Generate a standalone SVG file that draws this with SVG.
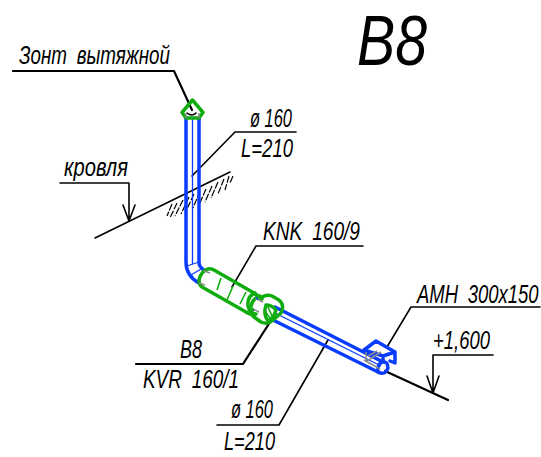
<svg xmlns="http://www.w3.org/2000/svg" width="541" height="457" viewBox="0 0 541 457">
<style>
text{font-family:"Liberation Sans",Arial,sans-serif;font-style:italic;fill:#000}
.w{word-spacing:6px}
.l{fill:none;stroke:#000;stroke-width:1.6;stroke-linecap:round;stroke-linejoin:round}
.t{fill:none;stroke:#000;stroke-width:2.2;stroke-linecap:round;stroke-linejoin:round}
.h{fill:none;stroke:#000;stroke-width:1.2;stroke-dasharray:7 1.500}
.b{fill:none;stroke:#0a3cff;stroke-width:3.500;stroke-linecap:round;stroke-linejoin:round}
.bt{fill:none;stroke:#0a3cff;stroke-width:1.300}
.g{fill:none;stroke:#10ac10;stroke-width:3.500;stroke-linecap:round;stroke-linejoin:round}
.gt{fill:none;stroke:#10ac10;stroke-width:1.600}
.gr{fill:none;stroke:#8a8a8a;stroke-width:1.500}
</style>
<g id="title"><text x="357" y="65" font-size="70" textLength="70" lengthAdjust="spacingAndGlyphs">B8</text></g>
<g id="connectors">
<path class="t" d="M13 71H174L192 110"/>
<path class="l" d="M296 132H235L192 176"/>
<path class="l" d="M363 246H256L232 287"/>
<path class="t" d="M136 364H243L272 319"/>
<path class="l" d="M217 425H279L328 340"/>
<path class="l" d="M540 307H411L387 347"/>
<path class="l" d="M60 183H129V220M123 205L129 221L135 205"/>
<path class="l" d="M493 355H433V393M427 376L433 393L439 376"/>
<path class="t" d="M385 371L448 400"/>
<path class="l" d="M95 238L230 172"/>
<path class="h" d="M172 204L167 216M177 203L170 218M183 200L175 216M189 197L181 214M194 194L186 211M200 191L193 208M206 189L199 205M212 186L205 202M218 182L211 198M224 179L218 194M229 176L225 190M233 176L230 183"/>
</g>
<g id="duct-vertical">
<path class="b" d="M186 118V262Q186 276 199 283"/>
<path class="b" d="M199 118V262Q199 267 204 270"/>
<path class="bt" d="M192.500 118V264"/>
<path class="bt" d="M187 266L199 262M191 275L201 269"/>
</g>
<g id="hood">
<path class="g" d="M192.500 100L203 112.500L199 118H186L182 112.500Z"/>
<path class="l" d="M187 113Q192 117 196 113"/>
<path class="gr" d="M186 113V118M199 113V118"/>
</g>
<g id="knk">
<path class="g" d="M208 269Q211 268 214 270L254 293L262 299M202 287L246 312Q250 315 255 314M208 269Q201 271 199 280Q199 285 202 287"/>
<path class="g" d="M255 293Q247 296 248 306Q250 314 256 314"/>
<path class="g" d="M260 296Q253 298 251 306"/>
<path class="gt" d="M221 278L217 290M233 286L227 300M246 292L240 304"/>
<path class="gr" d="M204 271L210 273M199 283L205 285M255 298L263 302M251 308L259 312"/>
<path class="bt" d="M256 297L258 300M252 309L254 311"/>
</g>
<g id="duct-horizontal">
<path class="b" d="M275 307L383 362M273 320L378 372"/>
<path class="bt" d="M275 313L381 366"/>
<path class="b" d="M378 372Q385 376 388 368Q388 361 382 362Q377 365 378 372"/>
</g>
<g id="kvr">
<path class="g" d="M262 297Q267 294 272 296L279 300Q285 305 281 313L272 321Q267 325 261 322L254 317Q250 314 252 309"/>
<path class="g" d="M266 305Q272 305 276 310Q274 318 268 321Q263 315 266 305Z"/>
<path class="gt" d="M268 307L272 316M264 310L270 318"/>
</g>
<g id="amh">
<path class="b" d="M364 350L376 341L395 352V363L390 361M364 350L383 356L395 352M383 356V361"/>
<path class="gr" d="M366 352V362M367 361L381 352M364 360L380 369M368 356L377 351"/>
</g>
<g id="labels">
<text class="w" x="19" y="64" font-size="25" textLength="151" lengthAdjust="spacingAndGlyphs">Зонт вытяжной</text>
<text x="64" y="176" font-size="25" textLength="64" lengthAdjust="spacingAndGlyphs">кровля</text>
<text x="250" y="127" font-size="25" textLength="42" lengthAdjust="spacingAndGlyphs">ø 160</text>
<text x="241" y="157" font-size="25" textLength="52" lengthAdjust="spacingAndGlyphs">L=210</text>
<text class="w" x="263" y="240" font-size="25" textLength="97" lengthAdjust="spacingAndGlyphs">KNK 160/9</text>
<text x="180" y="358" font-size="25" textLength="22" lengthAdjust="spacingAndGlyphs">B8</text>
<text class="w" x="143" y="388" font-size="25" textLength="96" lengthAdjust="spacingAndGlyphs">KVR 160/1</text>
<text x="231" y="418" font-size="25" textLength="42" lengthAdjust="spacingAndGlyphs">ø 160</text>
<text x="224" y="450" font-size="25" textLength="51" lengthAdjust="spacingAndGlyphs">L=210</text>
<text class="w" transform="translate(417 303) scale(.74 1)" font-size="25">AMH 300x150</text>
<text x="433" y="349" font-size="25" textLength="57" lengthAdjust="spacingAndGlyphs">+1,600</text>
</g>
</svg>
